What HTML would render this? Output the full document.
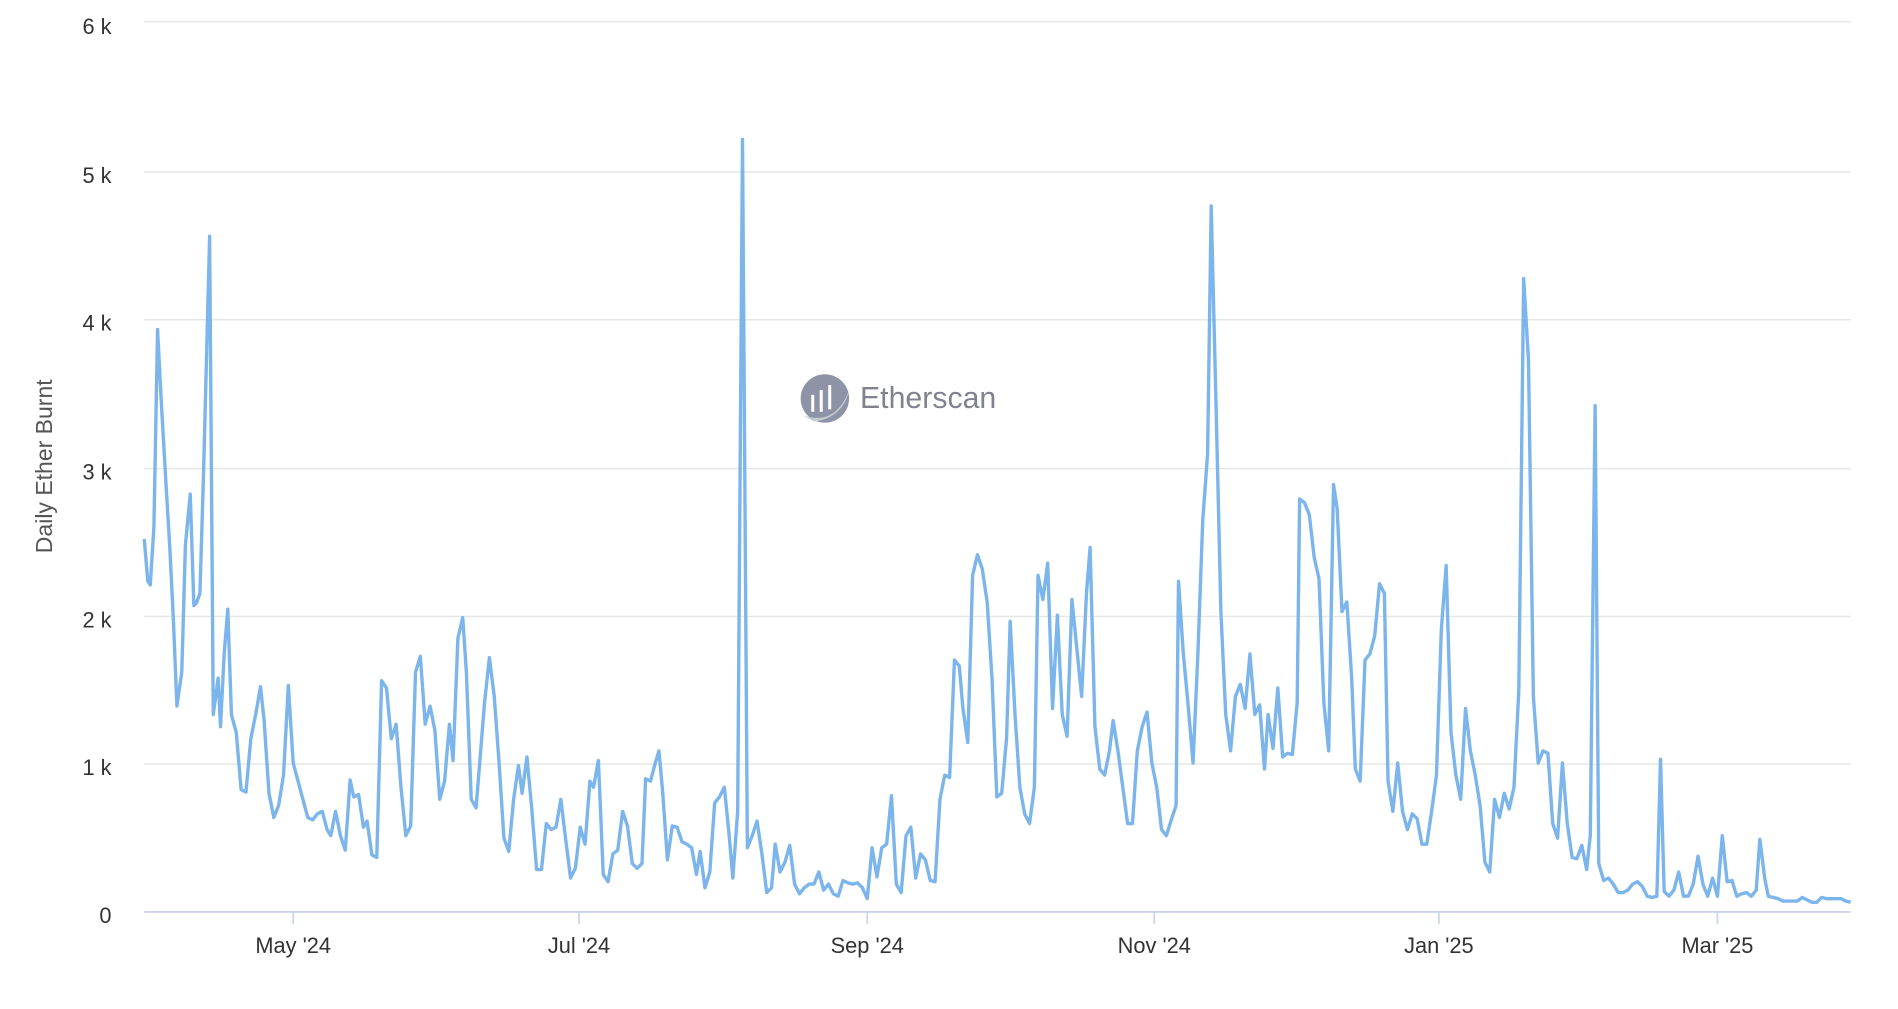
<!DOCTYPE html>
<html><head><meta charset="utf-8"><style>html,body{margin:0;padding:0;background:#fff;overflow:hidden}</style></head>
<body>
<svg width="1898" height="1004" viewBox="0 0 1567 829" xmlns="http://www.w3.org/2000/svg" font-family="Liberation Sans, sans-serif">
<g stroke="#e6e6e6" stroke-width="1.2">
<line x1="119" y1="18" x2="1528" y2="18"/><line x1="119" y1="142" x2="1528" y2="142"/><line x1="119" y1="264" x2="1528" y2="264"/><line x1="119" y1="387" x2="1528" y2="387"/><line x1="119" y1="509" x2="1528" y2="509"/><line x1="119" y1="631" x2="1528" y2="631"/>
</g>
<line x1="119" y1="753" x2="1528" y2="753" stroke="#ccd6eb" stroke-width="1.5"/>
<g stroke="#ccd6eb" stroke-width="1.5">
<line x1="242" y1="753" x2="242" y2="763"/><line x1="478" y1="753" x2="478" y2="763"/><line x1="716" y1="753" x2="716" y2="763"/><line x1="953" y1="753" x2="953" y2="763"/><line x1="1188" y1="753" x2="1188" y2="763"/><line x1="1418" y1="753" x2="1418" y2="763"/>
</g>
<g fill="#333" font-size="18" text-anchor="end">
<text x="92" y="28">6 k</text><text x="92" y="151">5 k</text><text x="92" y="273">4 k</text><text x="92" y="396">3 k</text><text x="92" y="518">2 k</text><text x="92" y="640">1 k</text><text x="92" y="762">0</text>
</g>
<g fill="#333" font-size="18" text-anchor="middle">
<text x="242" y="787">May '24</text><text x="478" y="787">Jul '24</text><text x="716" y="787">Sep '24</text><text x="953" y="787">Nov '24</text><text x="1188" y="787">Jan '25</text><text x="1418" y="787">Mar '25</text>
</g>
<text transform="translate(43,385) rotate(-90)" text-anchor="middle" font-size="19" fill="#555">Daily Ether Burnt</text>
<circle cx="681" cy="329" r="20" fill="#8e94a6"/>
<path d="M663 343 Q690 352 701 322 Q696 345 672 348 Z" fill="#c8cad2"/>
<g stroke="#fff" stroke-width="2.5"><line x1="671" y1="340" x2="671" y2="326"/><line x1="678" y1="340" x2="678" y2="322"/><line x1="685" y1="338" x2="685" y2="318"/></g>
<text x="710" y="337" font-size="25" fill="#80838f">Etherscan</text>
<polyline fill="none" stroke="#7cb5ec" stroke-width="2.8" stroke-linejoin="round" points="119,445 122,480 124,483 127,435 130,272 133,330 137,400 140,450 143,510 146,583 150,555 153,450 157,408 160,500 162,498 165,490 168,390 173,195 176,590 180,560 182,600 185,540 188,503 191,590 195,605 199,652 203,654 207,610 211,590 215,567 218,595 222,655 226,675 230,665 234,640 238,566 242,630 246,645 250,660 254,675 258,677 262,672 266,670 270,685 273,690 277,670 281,690 285,702 289,644 292,658 296,656 300,683 303,678 307,706 311,708 315,562 319,568 323,610 327,598 331,650 335,690 339,682 343,555 347,542 351,598 355,583 359,603 363,660 367,645 371,598 374,628 378,527 382,510 385,555 389,660 393,667 396,630 400,580 404,543 408,575 412,630 416,692 420,703 424,660 428,632 431,655 435,625 439,668 443,718 447,718 451,680 455,685 459,683 463,660 467,693 471,725 475,717 479,683 483,697 487,645 490,650 494,628 498,722 502,728 506,705 510,702 514,670 518,682 522,713 526,717 530,713 533,643 537,645 541,630 544,620 547,653 551,710 555,682 559,683 563,695 567,697 571,700 575,722 578,703 582,733 586,720 590,663 594,658 598,650 602,690 605,725 609,670 613,115 617,700 621,690 625,678 629,705 633,737 637,733 640,697 644,720 648,712 652,698 656,730 660,738 664,733 668,730 672,730 676,720 680,735 684,730 688,738 692,740 696,727 700,729 704,730 708,729 712,733 716,742 720,700 724,724 728,700 732,697 736,657 740,730 744,737 748,690 752,683 756,725 760,705 764,710 768,727 772,728 776,660 780,640 784,642 788,545 792,550 795,585 799,613 803,475 807,458 811,470 815,497 819,560 823,658 827,655 831,610 834,513 838,590 842,650 846,672 850,680 854,650 857,475 861,495 865,465 869,585 873,508 877,590 881,608 885,495 889,535 893,575 897,490 900,452 904,600 908,635 912,640 916,620 919,595 923,620 927,650 931,680 935,680 939,620 943,600 947,588 951,630 955,650 959,685 963,690 967,677 971,665 973,480 977,540 981,583 985,630 989,540 993,430 997,375 1000,170 1004,335 1008,505 1012,590 1016,620 1020,575 1024,565 1028,585 1032,540 1036,590 1040,582 1044,635 1047,590 1051,618 1055,568 1059,625 1063,622 1067,623 1071,580 1073,412 1077,415 1081,425 1085,460 1089,478 1093,580 1097,620 1101,400 1104,420 1108,505 1112,497 1116,560 1119,635 1123,645 1127,545 1131,540 1135,525 1139,482 1143,490 1146,645 1150,670 1154,630 1158,670 1162,685 1166,672 1170,676 1174,697 1178,697 1182,670 1186,640 1190,520 1194,467 1198,605 1202,640 1206,660 1210,585 1214,620 1218,640 1222,665 1226,712 1230,720 1234,660 1238,675 1242,655 1246,668 1250,650 1254,570 1258,230 1262,298 1266,575 1270,630 1274,620 1278,622 1282,680 1286,692 1290,630 1294,680 1298,708 1302,709 1306,698 1310,718 1313,690 1317,335 1320,713 1324,727 1328,725 1332,730 1336,737 1340,737 1344,735 1348,730 1352,728 1356,732 1360,740 1364,741 1368,740 1371,627 1374,736 1378,740 1382,735 1386,720 1390,740 1394,740 1398,730 1402,707 1406,730 1410,740 1414,725 1418,740 1422,690 1426,728 1430,727 1434,740 1438,738 1442,737 1446,740 1450,735 1453,693 1457,725 1460,740 1464,741 1468,742 1472,744 1476,744 1480,744 1484,744 1488,741 1492,743 1496,745 1500,745 1504,741 1508,742 1512,742 1516,742 1520,742 1524,744 1528,745"/>
</svg>
</body></html>
